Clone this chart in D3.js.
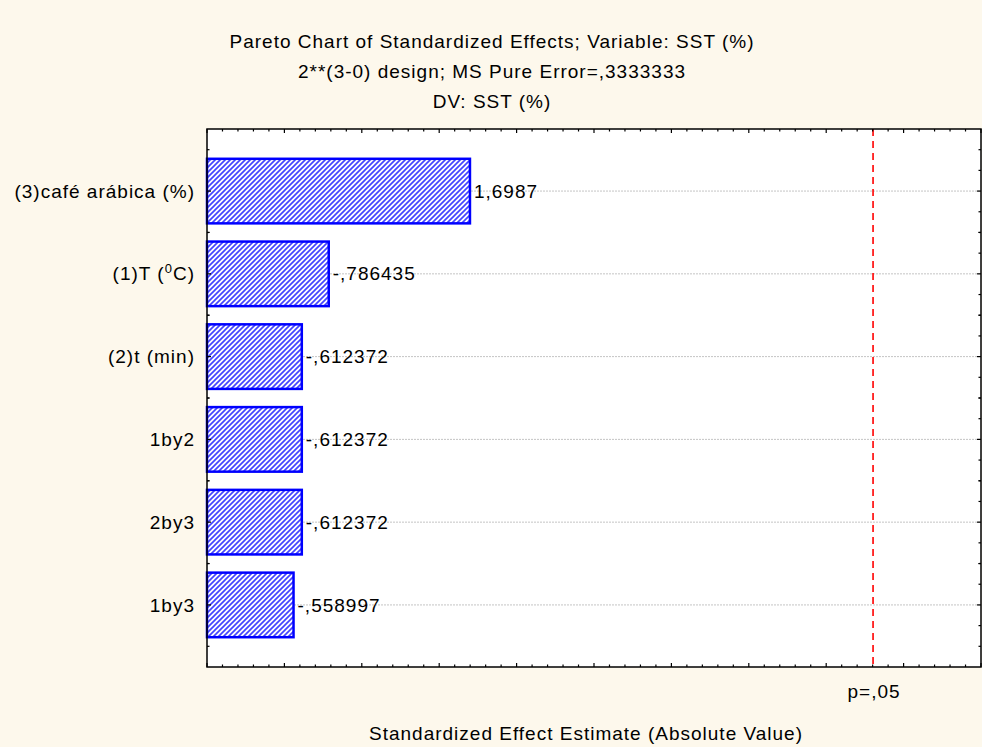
<!DOCTYPE html>
<html>
<head>
<meta charset="utf-8">
<script src="https://cdn.jsdelivr.net/npm/d3@7"></script>
<style>
  body { margin: 0; background: #fdf8ec; }
  svg { display: block; }
  text { font-family: "Liberation Sans", Arial, sans-serif; font-size: 19px; letter-spacing: 1px; fill: #000; }
</style>
</head>
<body>
<svg id="chart" width="982" height="747"></svg>
<script>
// Pareto chart of standardized effects (2**(3-0) design)
const titleLines = [
  "Pareto Chart of Standardized Effects; Variable: SST (%)",
  "2**(3-0) design; MS Pure Error=,3333333",
  "DV: SST (%)"
];
const categories = ["(3)café arábica (%)", "(1)T (⁰C)", "(2)t (min)", "1by2", "2by3", "1by3"];
const effects = [1.6987, -0.786435, -0.612372, -0.612372, -0.612372, -0.558997];
const criticalT = 4.302653;          // t(0.975; df = 2)
const criticalLabel = "p=,05";
const xTitle = "Standardized Effect Estimate (Absolute Value)";
const xDomain = [0, 5];

const W = 982, H = 747;
const plot = { left: 207, right: 981, top: 129, bottom: 667 };

const svg = d3.select("#chart");

svg.append("rect").attr("width", W).attr("height", H).attr("fill", "#fdf8ec");

const defs = svg.append("defs");
const pat = defs.append("pattern")
  .attr("id", "hatch")
  .attr("patternUnits", "userSpaceOnUse")
  .attr("width", 5).attr("height", 5);
pat.append("rect").attr("width", 5).attr("height", 5).attr("fill", "#ffffff");
pat.append("path")
  .attr("d", "M0,5 L5,0 M-1,1 L1,-1 M4,6 L6,4")
  .attr("stroke", "#4444ff").attr("stroke-width", 1.7);

const x = d3.scaleLinear().domain(xDomain).range([plot.left, plot.right]);
const y = d3.scalePoint().domain(categories).range([plot.top, plot.bottom]).padding(0.75);
const step = y.step();
const barH = step * 0.78;

// plot background
svg.append("rect")
  .attr("x", plot.left).attr("y", plot.top)
  .attr("width", plot.right - plot.left).attr("height", plot.bottom - plot.top)
  .attr("fill", "#ffffff");

// horizontal dotted grid at each effect
svg.append("g").selectAll("line").data(categories).join("line")
  .attr("x1", plot.left).attr("x2", plot.right)
  .attr("y1", d => y(d)).attr("y2", d => y(d))
  .attr("stroke", "#c4c4c4").attr("stroke-width", 1)
  .attr("stroke-dasharray", "2,1");

// bars
const rows = categories.map((c, i) => ({ cat: c, value: effects[i] }));
svg.append("g").selectAll("rect").data(rows).join("rect")
  .attr("x", x(0))
  .attr("y", d => y(d.cat) - barH / 2)
  .attr("width", d => x(Math.abs(d.value)) - x(0))
  .attr("height", barH)
  .attr("fill", "url(#hatch)")
  .attr("stroke", "#0000ff").attr("stroke-width", 2.5);

// value labels
const fmt = v => {
  const s = String(Math.abs(v)).replace(/^0\./, ".").replace(".", ",");
  return (v < 0 ? "-" : "") + s;
};
svg.append("g").selectAll("text").data(rows).join("text")
  .attr("x", d => x(Math.abs(d.value)) + 4)
  .attr("y", d => y(d.cat))
  .attr("dy", "0.35em")
  .text(d => fmt(d.value));

// critical value line
svg.append("line")
  .attr("x1", x(criticalT)).attr("x2", x(criticalT))
  .attr("y1", plot.top).attr("y2", plot.bottom)
  .attr("stroke", "#ff0000").attr("stroke-width", 1.6)
  .attr("stroke-dasharray", "7,5");

svg.append("text")
  .attr("x", x(criticalT) + 1).attr("y", 698)
  .attr("text-anchor", "middle")
  .text(criticalLabel);

// category labels (⁰ drawn as raised 0)
const catText = svg.append("g").selectAll("text").data(categories).join("text")
  .attr("x", plot.left - 12)
  .attr("y", d => y(d))
  .attr("dy", "0.35em")
  .attr("text-anchor", "end");
catText.each(function (d) {
  const t = d3.select(this);
  const parts = d.split("⁰");
  parts.forEach((p, i) => {
    if (i > 0) {
      t.append("tspan").attr("dy", -7).attr("font-size", "13px").text("0");
      t.append("tspan").attr("dy", 7).text(p);
    } else {
      t.append("tspan").text(p);
    }
  });
});

// x axis ticks (inward, top and bottom)
const tickG = svg.append("g").attr("stroke", "#000").attr("stroke-width", 1.2);
const majorX = x.ticks(10), minorX = x.ticks(50);
minorX.forEach(v => {
  const isMajor = majorX.some(m => Math.abs(m - v) < 1e-9);
  const len = isMajor ? 4 : 2.5;
  tickG.append("line").attr("x1", x(v)).attr("x2", x(v)).attr("y1", plot.bottom).attr("y2", plot.bottom - len);
  tickG.append("line").attr("x1", x(v)).attr("x2", x(v)).attr("y1", plot.top).attr("y2", plot.top + len);
});

// y axis ticks: left at half steps, right at quarter steps
categories.forEach(c => {
  [-0.5, 0, 0.5].forEach(k => {
    const yy = y(c) + k * step;
    tickG.append("line").attr("x1", plot.left).attr("x2", plot.left + (k === 0 ? 4 : 2.5)).attr("y1", yy).attr("y2", yy);
  });
  [-0.5, -0.25, 0, 0.25, 0.5].forEach(k => {
    const yy = y(c) + k * step;
    tickG.append("line").attr("x1", plot.right).attr("x2", plot.right - (k === 0 ? 4 : 2.5)).attr("y1", yy).attr("y2", yy);
  });
});

// frame
svg.append("rect")
  .attr("x", plot.left).attr("y", plot.top)
  .attr("width", plot.right - plot.left).attr("height", plot.bottom - plot.top)
  .attr("fill", "none").attr("stroke", "#000").attr("stroke-width", 1.5);

// titles
svg.append("g").selectAll("text").data(titleLines).join("text")
  .attr("x", 492)
  .attr("y", (d, i) => 48 + i * 30)
  .attr("text-anchor", "middle")
  .text(d => d);

svg.append("text")
  .attr("x", 586).attr("y", 740)
  .attr("text-anchor", "middle")
  .text(xTitle);
</script>
</body>
</html>
